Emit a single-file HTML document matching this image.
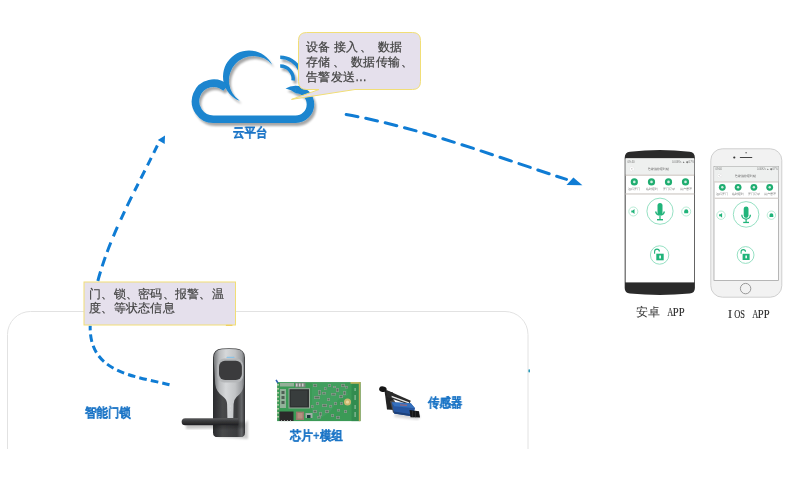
<!DOCTYPE html>
<html><head><meta charset="utf-8">
<style>
html,body{margin:0;padding:0;background:#fff;}
.bt,.bt2,.lbl,.cj,.app2{will-change:transform;}
body{width:804px;height:481px;position:relative;overflow:hidden;font-family:"Liberation Sans",sans-serif;}
.abs{position:absolute;}
svg.full{position:absolute;left:0;top:0;will-change:transform;}
.bt{position:absolute;color:#3e3e3e;-webkit-text-stroke:0.25px #4a4a4a;font-size:12px;line-height:14px;letter-spacing:0.4px;white-space:pre;}
.bt2{position:absolute;color:#3e3e3e;-webkit-text-stroke:0.2px #4a4a4a;font-size:12px;line-height:14px;letter-spacing:0.25px;white-space:pre;}
.lbl{position:absolute;color:#1a74c6;font-weight:bold;font-size:13px;line-height:13px;white-space:pre;transform-origin:0 0;transform:scaleX(0.88);-webkit-text-stroke:0.15px #1a74c6;}
.app{position:absolute;color:#2a2a2a;font-family:"Liberation Serif",serif;font-size:13px;line-height:13px;white-space:pre;transform-origin:0 0;transform:scaleX(0.85);}
.app2{position:absolute;color:#2a2a2a;font-family:"Liberation Serif",serif;font-size:13.5px;line-height:13px;white-space:nowrap;}
.app2 span{display:inline-block;width:6px;text-align:center;}
.app2 span{transform:scaleX(0.62);-webkit-text-stroke:0.15px #2a2a2a;}
.app2 span.p{transform:scaleX(0.78);}
.app2 span.i{transform:scaleX(0.9);}
.cj{position:absolute;color:#333;font-size:12px;line-height:12px;white-space:pre;}
</style></head>
<body>
<svg class="full" width="804" height="481" viewBox="0 0 804 481">
  <defs>
    <filter id="sh" x="-20%" y="-20%" width="140%" height="140%">
      <feGaussianBlur in="SourceAlpha" stdDeviation="1.2"/>
      <feOffset dx="2" dy="2.5" result="b"/>
      <feComponentTransfer><feFuncA type="linear" slope="0.35"/></feComponentTransfer>
      <feMerge><feMergeNode/><feMergeNode in="SourceGraphic"/></feMerge>
    </filter>
    <filter id="soft" x="-10%" y="-10%" width="120%" height="120%"><feGaussianBlur stdDeviation="0.35"/></filter>
  </defs>
  <!-- rounded container -->
  <rect x="7.5" y="311.5" width="520.5" height="170" rx="23" ry="23" fill="none" stroke="#e2e2e2" stroke-width="1"/>
  <rect x="0" y="449" width="804" height="32" fill="#fff"/>

  <!-- cloud -->
  <g filter="url(#sh)">
    <path d="M239.77,100.81 A26,26 0 1 1 272.17,64.70 A24.50,24.50 0 1 0 239.77,100.81 Z" fill="#1a85cf"/>
    <path d="M225.78,88.04 A18,18 0 1 0 213.50,119.20 L295.40,119.20 A14.9,14.9 0 1 0 295.66,89.40" fill="none" stroke="#1a85cf" stroke-width="7.5"/>
    <path d="M285.52,88.48 A18.65,18.65 0 0 1 296.05,85.66 L295.79,93.16 A22,22 0 0 0 285.52,88.48 Z" fill="#1a85cf"/>
    <path d="M280.20,66.10 A13,13 0 0 1 293.13,80.46" fill="none" stroke="#1a85cf" stroke-width="3.5"/>
    <path d="M280.20,57.35 A21.75,21.75 0 0 1 299.91,69.91" fill="none" stroke="#1a85cf" stroke-width="3.5"/>
  </g>

  <!-- arrow 1 -->
  <path d="M344.7,114.2 C420.4,127.7 493.9,156 566.5,179.4" fill="none" stroke="#0f7cd4" stroke-width="3" stroke-linecap="round" stroke-dasharray="12 7.95" stroke-dashoffset="-1.5"/>
  <polygon points="573.4,177.5 566.5,185 582.4,185.3" fill="#0f7cd4"/>

  <!-- arrow 2 -->
  <path d="M169.5,384.8 C134.7,375.9 88.9,373.1 90.2,325.8" fill="none" stroke="#0f7cd4" stroke-width="3" stroke-dasharray="7.6 4.1"/>
  <path d="M158.2,143.8 C129.4,203 94.8,259.6 90.2,325.8" fill="none" stroke="#0f7cd4" stroke-width="3" stroke-dasharray="8.14 5.7 8.28 5.82 8.97 5.83 8.17 6.36 10.47 5.76 9.05 8.11 10.24 6.71 10.08 5.43 9.92 5.34 9.88 5.16 9.74 5.09 9.63 5.04 9.55 50" stroke-dashoffset="-1.90"/>
  <polygon points="165,135.6 157.8,140 164.7,144" fill="#0f7cd4"/>

  <!-- bubble -->
  <path d="M306.5,32.5 L412.5,32.5 Q420.5,32.5 420.5,40.5 L420.5,81.5 Q420.5,89.5 412.5,89.5 L355,89.5 L291.5,99.4 L319,89.5 L306.5,89.5 Q298.5,89.5 298.5,81.5 L298.5,40.5 Q298.5,32.5 306.5,32.5 Z" fill="#e5e0ec" stroke="#f1de76" stroke-width="1"/>

  <!-- status box -->
  <rect x="84" y="282" width="151.5" height="43" fill="#e5e0ec" stroke="#f1de76" stroke-width="1"/>


  <rect x="528.4" y="369.3" width="1.6" height="3.2" rx="0.8" fill="#2a9ab8"/>
  <rect x="225.8" y="324.8" width="6.7" height="1.2" rx="0.6" fill="#f0d060"/>
  <!-- ANDROID PHONE -->
  <g id="android">
    <path d="M624.7,158 Q624.7,152.3 630,151.8 Q659.8,148.2 689.6,151.8 Q694.9,152.3 694.9,158 L694.9,288 Q694.9,293.2 689.6,293.6 Q659.8,296.4 630,293.6 Q624.7,293.2 624.7,288 Z" fill="#2a2a2a"/>
    <rect x="625.6" y="158.4" width="68.6" height="124" fill="#fff"/>
    <rect x="625.6" y="158.4" width="68.6" height="16" fill="#eef0ef"/>
    <rect x="625.6" y="174.4" width="68.6" height="1.5" fill="#d6d1cd"/>
    <rect x="625.6" y="193.2" width="68.6" height="1.5" fill="#d9d5d2"/>
    <g fill="#555" font-family="Liberation Sans, sans-serif">
      <text x="627.5" y="162.6" font-size="2.8" opacity="0.8">09:40</text><text x="672" y="162.6" font-size="2.8" opacity="0.8">0.00K/s ▲ ◆ 67%</text>
      <text x="647.6" y="170.4" font-size="3.4" fill="#666">智能指纹密码锁</text>
    </g>
    <circle cx="631.9" cy="169" r="2.4" fill="#fff" stroke="#ddd" stroke-width="0.4"/><path d="M632.5,167.9 L631.4,169 L632.5,170.1" fill="none" stroke="#888" stroke-width="0.5"/>
    <g fill="#1fad70">
      <circle cx="634.3" cy="181.9" r="3.6"/><circle cx="651.5" cy="181.9" r="3.6"/>
      <circle cx="668.5" cy="181.9" r="3.6"/><circle cx="685.5" cy="181.9" r="3.6"/>
    </g>
    <g fill="#fff" opacity="0.8">
      <circle cx="634.3" cy="181.9" r="1.3"/><circle cx="651.5" cy="181.9" r="1.3"/>
      <circle cx="668.5" cy="181.9" r="1.3"/><circle cx="685.5" cy="181.9" r="1.3"/>
    </g>
    <g fill="#777" font-family="Liberation Sans, sans-serif" font-size="2.8" text-anchor="middle">
      <text x="634.3" y="190">远程开门</text><text x="651.5" y="190">临时密码</text>
      <text x="668.5" y="190">开门记录</text><text x="685.5" y="190">用户管理</text>
    </g>
    <circle cx="660" cy="211.2" r="13.1" fill="none" stroke="#8addbc" stroke-width="0.9"/>
    <rect x="657.5" y="202.9" width="5" height="12" rx="2.5" fill="#20b47a"/>
    <path d="M655.6,211.5 A4.5,4.5 0 0 0 664.4,211.5" fill="none" stroke="#20b47a" stroke-width="1.3"/>
    <rect x="659.4" y="216" width="1.2" height="3.4" fill="#20b47a"/>
    <rect x="657" y="219" width="6" height="1.4" fill="#20b47a"/>
    <circle cx="633.3" cy="211.5" r="4.5" fill="none" stroke="#a8e6cc" stroke-width="0.8"/>
    <circle cx="686.2" cy="211.5" r="4.5" fill="none" stroke="#a8e6cc" stroke-width="0.8"/>
    <path d="M631.3,210.5 h1.4 l1.8,-1.5 v5 l-1.8,-1.5 h-1.4z" fill="#20b47a"/>
    <path d="M684.2,213.3 v-2 a2,2 0 0 1 4,0 v2z" fill="#20b47a"/>
    <circle cx="659.6" cy="255" r="9.2" fill="none" stroke="#8addbc" stroke-width="0.9"/>
    <rect x="656.3" y="253.7" width="7.4" height="6.6" fill="#20b47a"/>
    <rect x="659.3" y="255.5" width="1.6" height="3" fill="#fff"/>
    <path d="M654.6,253.7 v-2.2 a2.4,2.4 0 0 1 4.8,0" fill="none" stroke="#20b47a" stroke-width="1.1"/>
  </g>

  <!-- IOS PHONE -->
  <g id="ios">
    <rect x="710.8" y="148.8" width="71" height="148.4" rx="11.5" ry="11.5" fill="#f2f2f2" stroke="#cfcfcf" stroke-width="1"/>
    <rect x="714" y="166.4" width="64.5" height="114" fill="#fff" stroke="#9a9a9a" stroke-width="0.7"/>
    <rect x="714.3" y="166.7" width="64" height="14.6" fill="#eef0ef"/>
    <rect x="714.3" y="181.2" width="64" height="1.4" fill="#d6d1cd"/>
    <rect x="714.3" y="197.6" width="64" height="1.4" fill="#d9d5d2"/>
    <g fill="#555" font-family="Liberation Sans, sans-serif">
      <text x="715.5" y="170.2" font-size="2.6" opacity="0.8">09:40</text><text x="757" y="170.2" font-size="2.6" opacity="0.8">0.00K/s ▲ ◆ 67%</text>
      <text x="735" y="177.2" font-size="3.2" fill="#666">智能指纹密码锁</text>
    </g>
    <circle cx="719.5" cy="175.6" r="2.2" fill="#fff" stroke="#ddd" stroke-width="0.4"/><path d="M720.1,174.6 L719.1,175.6 L720.1,176.6" fill="none" stroke="#888" stroke-width="0.5"/>
    <g fill="#1fad70">
      <circle cx="722.3" cy="187.3" r="3.4"/><circle cx="738.1" cy="187.3" r="3.4"/>
      <circle cx="753.9" cy="187.3" r="3.4"/><circle cx="769.7" cy="187.3" r="3.4"/>
    </g>
    <g fill="#fff" opacity="0.8">
      <circle cx="722.3" cy="187.3" r="1.2"/><circle cx="738.1" cy="187.3" r="1.2"/>
      <circle cx="753.9" cy="187.3" r="1.2"/><circle cx="769.7" cy="187.3" r="1.2"/>
    </g>
    <g fill="#777" font-family="Liberation Sans, sans-serif" font-size="2.6" text-anchor="middle">
      <text x="722.3" y="195.4">远程开门</text><text x="738.1" y="195.4">临时密码</text>
      <text x="753.9" y="195.4">开门记录</text><text x="769.7" y="195.4">用户管理</text>
    </g>
    <circle cx="746.1" cy="214.4" r="12.8" fill="none" stroke="#8addbc" stroke-width="0.9"/>
    <rect x="743.7" y="206.4" width="4.8" height="11.5" rx="2.4" fill="#20b47a"/>
    <path d="M741.8,214.8 A4.3,4.3 0 0 0 750.4,214.8" fill="none" stroke="#20b47a" stroke-width="1.3"/>
    <rect x="745.5" y="219" width="1.2" height="3.2" fill="#20b47a"/>
    <rect x="743.2" y="221.8" width="5.8" height="1.3" fill="#20b47a"/>
    <circle cx="721" cy="215.2" r="4.2" fill="none" stroke="#a8e6cc" stroke-width="0.8"/>
    <circle cx="771.4" cy="215.2" r="4.2" fill="none" stroke="#a8e6cc" stroke-width="0.8"/>
    <path d="M719.1,214.3 h1.3 l1.7,-1.4 v4.8 l-1.7,-1.4 h-1.3z" fill="#20b47a"/>
    <path d="M769.5,217 v-1.9 a1.9,1.9 0 0 1 3.8,0 v1.9z" fill="#20b47a"/>
    <circle cx="745.6" cy="255" r="8.4" fill="none" stroke="#8addbc" stroke-width="0.9"/>
    <rect x="742.6" y="253.8" width="7" height="6.2" fill="#20b47a"/>
    <rect x="745.4" y="255.5" width="1.5" height="2.8" fill="#fff"/>
    <path d="M741.1,253.8 v-2 a2.2,2.2 0 0 1 4.4,0" fill="none" stroke="#20b47a" stroke-width="1.1"/>
    <circle cx="745.6" cy="288.6" r="5.2" fill="none" stroke="#8e8e8e" stroke-width="0.9"/>
    <circle cx="734.3" cy="157.5" r="1.1" fill="#333"/>
    <rect x="739.8" y="157" width="12.5" height="1.1" rx="0.5" fill="#444"/>
    <circle cx="746.1" cy="152.8" r="0.7" fill="#555"/>
  </g>

  <!-- LOCK -->
  <g id="lock" filter="url(#soft)">
    <defs>
      <linearGradient id="lkBody" x1="0" x2="1" y1="0" y2="0">
        <stop offset="0" stop-color="#2a2b2d"/><stop offset="0.3" stop-color="#48494b"/>
        <stop offset="0.75" stop-color="#3a3b3d"/><stop offset="0.9" stop-color="#67696b"/><stop offset="1" stop-color="#2e2f31"/>
      </linearGradient>
      <linearGradient id="lkSil" x1="0" x2="1" y1="0" y2="0">
        <stop offset="0" stop-color="#6f7174"/><stop offset="0.18" stop-color="#b9bbbd"/><stop offset="0.4" stop-color="#d6d8da"/>
        <stop offset="0.7" stop-color="#c2c4c6"/><stop offset="0.92" stop-color="#9a9c9f"/><stop offset="1" stop-color="#6a6c6f"/>
      </linearGradient>
      <linearGradient id="lkHandle" x1="0" x2="0" y1="0" y2="1">
        <stop offset="0" stop-color="#5c5d5f"/><stop offset="0.4" stop-color="#3a3b3d"/><stop offset="1" stop-color="#1d1e20"/>
      </linearGradient>
      <filter id="blur1"><feGaussianBlur stdDeviation="1.3"/></filter>
    </defs>
    <path d="M216,437 L248,439 L248,420 L243,425 Z" fill="#000" opacity="0.2" filter="url(#blur1)"/>
    <path d="M213,358 Q213,349 222,348.5 Q229,348 236,348.5 Q245,349 245,358 L245,432.4 Q245,437.1 240.3,437.1 L217.7,437.1 Q213,437.1 213,432.4 Z" fill="url(#lkBody)"/>
    <path d="M213.7,358 Q213.7,349.6 222,349.2 Q229,348.8 236,349.2 Q244.3,349.6 244.3,358 L244,384 Q243.5,392 236.5,397 Q233.8,399.5 233.6,404 L233.3,418 L227.4,418 L227.1,404 Q226.9,399.5 223.5,397 Q216,392 215.2,384 Z" fill="url(#lkSil)"/>
    <rect x="217.3" y="358.6" width="26" height="24" rx="7" fill="#b5b7b9"/>
    <rect x="219" y="360.7" width="22.9" height="19.2" rx="6" fill="#3b3b3d"/>
    <rect x="226.5" y="356.8" width="8" height="1.3" rx="0.6" fill="#7cc0ec" opacity="0.8"/>
    <circle cx="230.4" cy="406" r="0.6" fill="#ddd"/><circle cx="230.4" cy="410" r="0.6" fill="#ddd"/>
    <path d="M186,420 L244,422 L244,428 L186,429 Z" fill="#000" opacity="0.22" filter="url(#blur1)"/>
    <path d="M185.2,418.2 L238.4,418.2 L238.4,425.3 L185.2,425.3 A3.55,3.55 0 0 1 185.2,418.2 Z" fill="url(#lkHandle)"/>
  </g>

  <!-- CHIP BOARD -->
  <g id="chip" filter="url(#soft)">
    <rect x="277.1" y="382.1" width="83.3" height="39" fill="#3a9a56"/>
    <path d="M312,383 L345,383 L348,395 L338,400 L330,412 L318,420 L312,420 Z" fill="#47a466" opacity="0.6"/>
    <rect x="351.5" y="382.1" width="8.9" height="39" fill="#318c50"/>
    <rect x="350.5" y="382.1" width="9.9" height="1.6" fill="#cdb860"/>
    <rect x="358.8" y="382.1" width="1.6" height="39" fill="#bba955"/>
    <g fill="#d8d6b8" opacity="0.8">
      <rect x="277.1" y="384" width="1.8" height="1.6"/><rect x="277.1" y="388" width="1.8" height="1.6"/><rect x="277.1" y="392" width="1.8" height="1.6"/>
      <rect x="277.1" y="396" width="1.8" height="1.6"/><rect x="277.1" y="400" width="1.8" height="1.6"/><rect x="277.1" y="404" width="1.8" height="1.6"/>
      <rect x="277.1" y="408" width="1.8" height="1.6"/><rect x="277.1" y="412" width="1.8" height="1.6"/><rect x="277.1" y="416" width="1.8" height="1.6"/>
    </g>
    <rect x="280" y="383" width="14" height="3.5" fill="#9fb0a0" opacity="0.9"/>
    <rect x="295" y="382.7" width="10.5" height="4.7" fill="#7b857d"/>
    <rect x="296" y="383.5" width="1.5" height="3" fill="#ccc"/><rect x="299" y="383.5" width="1.5" height="3" fill="#ccc"/><rect x="302" y="383.5" width="1.5" height="3" fill="#ccc"/>
    <rect x="280" y="389" width="6" height="19" fill="#a9b8aa" opacity="0.8"/>
    <rect x="281.5" y="391" width="3" height="3" fill="#4e5e52"/><rect x="281.5" y="396" width="3" height="3" fill="#4e5e52"/><rect x="281.5" y="401" width="3" height="3" fill="#4e5e52"/>
    <rect x="288.5" y="388.2" width="21.5" height="20.3" fill="#9aaa9c"/>
    <rect x="289.5" y="389.2" width="19.5" height="18.3" fill="#2e3131"/>
    <rect x="291" y="390.7" width="16.5" height="15.3" fill="#383c3c"/>
    <rect x="279.5" y="411.5" width="14" height="9.5" fill="#2a2c2c"/>
    <g fill="#bbb"><rect x="281" y="420.2" width="1" height="1"/><rect x="284" y="420.2" width="1" height="1"/><rect x="287" y="420.2" width="1" height="1"/><rect x="290" y="420.2" width="1" height="1"/></g>
    <rect x="296" y="411.6" width="8" height="8.4" fill="#9a7a6c"/>
    <rect x="297.5" y="413" width="5" height="5.5" fill="#b58f80"/>
    <rect x="305.5" y="413" width="7" height="5" fill="#9fb0a8"/>
    <rect x="307" y="415" width="3.5" height="3" fill="#1e3b3b"/>
    <rect x="313" y="384" width="4" height="3" fill="#8fa394" opacity="0.85"/><rect x="313.7" y="384.7" width="2.6" height="1.6" fill="#3e5245" opacity="0.6"/><rect x="318" y="390" width="3" height="5" fill="#8fa394" opacity="0.85"/><rect x="318.7" y="390.7" width="1.6" height="3.6" fill="#3e5245" opacity="0.6"/><rect x="314" y="396" width="6" height="3" fill="#8fa394" opacity="0.85"/><rect x="314.7" y="396.7" width="4.6" height="1.6" fill="#3e5245" opacity="0.6"/><rect x="322" y="392" width="4" height="2.5" fill="#8fa394" opacity="0.85"/><rect x="322.7" y="392.7" width="2.6" height="1.1" fill="#3e5245" opacity="0.6"/><rect x="327" y="398" width="3" height="3" fill="#8fa394" opacity="0.85"/><rect x="327.7" y="398.7" width="1.6" height="1.6" fill="#3e5245" opacity="0.6"/><rect x="331" y="393" width="5" height="2.5" fill="#8fa394" opacity="0.85"/><rect x="331.7" y="393.7" width="3.6" height="1.1" fill="#3e5245" opacity="0.6"/><rect x="336" y="388" width="3" height="4" fill="#8fa394" opacity="0.85"/><rect x="336.7" y="388.7" width="1.6" height="2.6" fill="#3e5245" opacity="0.6"/><rect x="339" y="395" width="4" height="3" fill="#8fa394" opacity="0.85"/><rect x="339.7" y="395.7" width="2.6" height="1.6" fill="#3e5245" opacity="0.6"/><rect x="316" y="402" width="3" height="3" fill="#8fa394" opacity="0.85"/><rect x="316.7" y="402.7" width="1.6" height="1.6" fill="#3e5245" opacity="0.6"/><rect x="322" y="404" width="5" height="3" fill="#8fa394" opacity="0.85"/><rect x="322.7" y="404.7" width="3.6" height="1.6" fill="#3e5245" opacity="0.6"/><rect x="329" y="405" width="3" height="2.5" fill="#8fa394" opacity="0.85"/><rect x="329.7" y="405.7" width="1.6" height="1.1" fill="#3e5245" opacity="0.6"/><rect x="334" y="402" width="3" height="3" fill="#8fa394" opacity="0.85"/><rect x="334.7" y="402.7" width="1.6" height="1.6" fill="#3e5245" opacity="0.6"/><rect x="313" y="410" width="4" height="3" fill="#8fa394" opacity="0.85"/><rect x="313.7" y="410.7" width="2.6" height="1.6" fill="#3e5245" opacity="0.6"/><rect x="319" y="412" width="3" height="4" fill="#8fa394" opacity="0.85"/><rect x="319.7" y="412.7" width="1.6" height="2.6" fill="#3e5245" opacity="0.6"/><rect x="325" y="410" width="4" height="3" fill="#8fa394" opacity="0.85"/><rect x="325.7" y="410.7" width="2.6" height="1.6" fill="#3e5245" opacity="0.6"/><rect x="331" y="414" width="3" height="3" fill="#8fa394" opacity="0.85"/><rect x="331.7" y="414.7" width="1.6" height="1.6" fill="#3e5245" opacity="0.6"/><rect x="337" y="409" width="3" height="2.5" fill="#8fa394" opacity="0.85"/><rect x="337.7" y="409.7" width="1.6" height="1.1" fill="#3e5245" opacity="0.6"/><rect x="341" y="384" width="4" height="3" fill="#8fa394" opacity="0.85"/><rect x="341.7" y="384.7" width="2.6" height="1.6" fill="#3e5245" opacity="0.6"/><rect x="343" y="391" width="3" height="4" fill="#8fa394" opacity="0.85"/><rect x="343.7" y="391.7" width="1.6" height="2.6" fill="#3e5245" opacity="0.6"/><rect x="328" y="384" width="3" height="3" fill="#8fa394" opacity="0.85"/><rect x="328.7" y="384.7" width="1.6" height="1.6" fill="#3e5245" opacity="0.6"/><rect x="317" y="416" width="4" height="2.5" fill="#8fa394" opacity="0.85"/><rect x="317.7" y="416.7" width="2.6" height="1.1" fill="#3e5245" opacity="0.6"/><rect x="336" y="416" width="4" height="3" fill="#8fa394" opacity="0.85"/><rect x="336.7" y="416.7" width="2.6" height="1.6" fill="#3e5245" opacity="0.6"/><rect x="340" y="402" width="3" height="3" fill="#8fa394" opacity="0.85"/><rect x="340.7" y="402.7" width="1.6" height="1.6" fill="#3e5245" opacity="0.6"/><rect x="333" y="386" width="3" height="2" fill="#8fa394" opacity="0.85"/><rect x="333.7" y="386.7" width="1.6" height="0.6000000000000001" fill="#3e5245" opacity="0.6"/><rect x="324" y="387" width="2.5" height="3" fill="#8fa394" opacity="0.85"/><rect x="324.7" y="387.7" width="1.1" height="1.6" fill="#3e5245" opacity="0.6"/><rect x="345" y="386" width="3" height="2.5" fill="#8fa394" opacity="0.85"/><rect x="345.7" y="386.7" width="1.6" height="1.1" fill="#3e5245" opacity="0.6"/><rect x="311" y="405" width="2.5" height="3" fill="#8fa394" opacity="0.85"/><rect x="311.7" y="405.7" width="1.1" height="1.6" fill="#3e5245" opacity="0.6"/><rect x="344" y="410" width="3" height="3" fill="#8fa394" opacity="0.85"/><rect x="344.7" y="410.7" width="1.6" height="1.6" fill="#3e5245" opacity="0.6"/>
    <circle cx="347.5" cy="402" r="3.5" fill="#cdb870"/>
    <circle cx="347.5" cy="402" r="1.6" fill="#e8d9a0"/>
    <g fill="#b9d4bd" opacity="0.7">
      <rect x="354.5" y="388" width="1.2" height="3"/><rect x="354.5" y="395" width="1.2" height="5"/><rect x="354.5" y="405" width="1.2" height="4"/><rect x="354.5" y="412" width="1.2" height="5"/>
    </g>
    <rect x="276" y="379.5" width="1.6" height="3.5" fill="#2d5fb0" transform="rotate(-30 277 381)"/>
  </g>

  <!-- SENSOR -->
  <g id="sensor" filter="url(#soft)">
    <path d="M394,417 L418,420 L421,416 L396,412 Z" fill="#000" opacity="0.15" filter="url(#blur1)"/>
    <path d="M384.5,390.5 L393,392.5 L394.5,410 L387,409.5 Z" fill="#232323"/>
    <path d="M386,389.8 L410.8,400.8 L409,404.8 L387,397 Z" fill="#2a2a2a"/>
    <path d="M391.6,395.8 L409.2,402.3 L408.8,403.4 L391.6,397.3 Z" fill="#e8e8e8"/>
    <ellipse cx="382.9" cy="389.2" rx="3.8" ry="2.8" fill="#141414" transform="rotate(12 382.9 389.2)"/>
    <path d="M390,401 L393,412.5 L396,414 L401,413 L394,400 Z" fill="#4a4a4a"/>
    <path d="M391.6,402.3 L410.8,403.3 L415,408.3 L413.3,416.6 L394.1,413.6 Z" fill="#2857a0"/>
    <path d="M391.6,402.3 L410.8,403.3 L415,408.3 L394.5,406.3 Z" fill="#3570bc"/>
    <path d="M394.1,411.5 L413.6,414.5 L413.3,416.6 L394.1,413.6 Z" fill="#1d3f78"/>
    <path d="M400,404.3 L407,404.8 L407,406 L400,405.6 Z" fill="#c06060" opacity="0.7"/>
    <path d="M409.5,410 L419,411.2 L420,417.4 L410.5,417.2 Z" fill="#141414"/>
    <path d="M412.5,410.8 L412.5,417 M415.5,411.2 L415.5,417.2" stroke="#3a3a3a" stroke-width="0.6"/>
  </g>
</svg>

<div class="bt" style="left:305.5px;top:40px;">设备</div><div class="bt" style="left:333.5px;top:40px;">接入</div><div class="bt" style="left:359.5px;top:40px;">、</div><div class="bt" style="left:378px;top:40px;">数据</div>
<div class="bt" style="left:305.5px;top:55px;">存储</div><div class="bt" style="left:333px;top:55px;">、</div><div class="bt" style="left:351px;top:55px;">数据传输</div><div class="bt" style="left:401px;top:55px;">、</div>
<div class="bt" style="left:305.5px;top:70px;">告警发送...</div>

<div class="bt2" style="left:88.5px;top:286.5px;">门、锁、密码、报警、温</div><div class="bt2" style="left:88.5px;top:301px;">度、等状态信息</div>

<div class="lbl" style="left:232.5px;top:125.5px;">云平台</div>
<div class="lbl" style="left:85px;top:406px;">智能门锁</div>
<div class="lbl" style="left:290px;top:429px;">芯片+模组</div>
<div class="lbl" style="left:428px;top:396px;">传感器</div>

<div class="cj" style="left:636px;top:306px;">安卓</div><div class="app2" style="left:666px;top:305px;"><span>A</span><span class="p">P</span><span class="p">P</span></div>
<div class="app2" style="left:727px;top:307px;"><span class="i">I</span><span>O</span><span>S</span><span>&nbsp;</span><span>A</span><span class="p">P</span><span class="p">P</span></div>

</body></html>
